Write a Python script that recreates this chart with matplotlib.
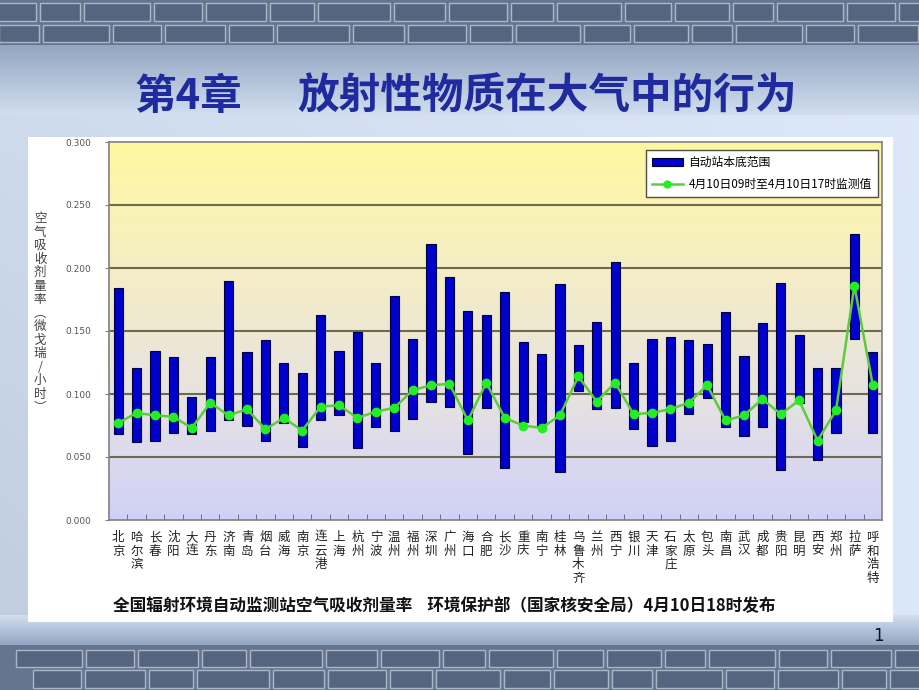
import numpy as np
import matplotlib
matplotlib.use("Agg")
import matplotlib.pyplot as plt
from matplotlib.patches import Rectangle, Patch
from matplotlib.lines import Line2D
from matplotlib.colors import LinearSegmentedColormap

plt.rcParams['font.family'] = ['Noto Sans CJK SC', 'DejaVu Sans']

# ---------------- data ----------------
cities = ["北京", "哈尔滨", "长春", "沈阳", "大连", "丹东", "济南", "青岛", "烟台", "威海",
          "南京", "连云港", "上海", "杭州", "宁波", "温州", "福州", "深圳", "广州", "海口",
          "合肥", "长沙", "重庆", "南宁", "桂林", "乌鲁木齐", "兰州", "西宁", "银川", "天津",
          "石家庄", "太原", "包头", "南昌", "武汉", "成都", "贵阳", "昆明", "西安", "郑州",
          "拉萨", "呼和浩特"]
range_low = [0.068, 0.062, 0.063, 0.069, 0.068, 0.071, 0.079, 0.075, 0.063, 0.077,
             0.058, 0.079, 0.083, 0.057, 0.074, 0.071, 0.080, 0.094, 0.090, 0.052,
             0.089, 0.041, 0.078, 0.075, 0.038, 0.102, 0.088, 0.089, 0.072, 0.059,
             0.063, 0.084, 0.097, 0.074, 0.067, 0.074, 0.040, 0.093, 0.048, 0.069,
             0.144, 0.069]
range_high = [0.184, 0.121, 0.134, 0.129, 0.098, 0.129, 0.190, 0.133, 0.143, 0.125,
              0.117, 0.163, 0.134, 0.149, 0.125, 0.178, 0.144, 0.219, 0.193, 0.166,
              0.163, 0.181, 0.141, 0.132, 0.187, 0.139, 0.157, 0.205, 0.125, 0.144,
              0.145, 0.143, 0.140, 0.165, 0.130, 0.156, 0.188, 0.147, 0.121, 0.121,
              0.227, 0.133]
measured = [0.077, 0.085, 0.083, 0.082, 0.073, 0.093, 0.083, 0.088, 0.072, 0.081,
            0.071, 0.090, 0.091, 0.081, 0.086, 0.089, 0.103, 0.107, 0.108, 0.079,
            0.109, 0.081, 0.075, 0.073, 0.083, 0.114, 0.094, 0.109, 0.084, 0.085,
            0.088, 0.093, 0.107, 0.079, 0.083, 0.096, 0.084, 0.095, 0.063, 0.087,
            0.186, 0.107]
y_ticks = [0.000, 0.050, 0.100, 0.150, 0.200, 0.250, 0.300]
y_tick_labels = ["0.000", "0.050", "0.100", "0.150", "0.200", "0.250", "0.300"]
legend_bar = "自动站本底范围"
legend_line = "4月10日09时至4月10日17时监测值"
ylabel = "空气吸收剂量率︵微戈瑞/小时︶"
title_a = "第4章"
title_b = "放射性物质在大气中的行为"
caption = "全国辐射环境自动监测站空气吸收剂量率    环境保护部（国家核安全局）4月10日18时发布"

W, H = 920, 690
fig = plt.figure(figsize=(W / 100, H / 100), dpi=100)

# ---------------- slide background ----------------
bg = fig.add_axes([0, 0, 1, 1])
bg.set_xlim(0, W)
bg.set_ylim(H, 0)
bg.axis('off')
yy = np.linspace(0, 1, 300)[:, None]
xx = np.linspace(0, 1, 400)[None, :]
base = np.array([0.82, 0.87, 0.94])
img = np.ones((300, 400, 3)) * base
shade = 0.07 * (1 - xx) * (yy) - 0.04 * xx
img = np.clip(img - shade[..., None], 0, 1)
bg.imshow(img, extent=[0, W, H, 0], aspect='auto', zorder=0)
fade = np.linspace(0, 1, 60)[:, None, None]
top_fade = np.ones((60, 1, 3)) * np.array([0.58, 0.65, 0.76]) * (1 - fade) + base * fade
bg.imshow(top_fade, extent=[0, W, 115, 45], aspect='auto', zorder=0.5)
bot_fade = top_fade[::-1]
bg.imshow(bot_fade, extent=[0, W, 645, 615], aspect='auto', zorder=0.5)
for (y0, y1) in [(0, 45), (645, 690)]:
    bg.add_patch(Rectangle((0, y0), W, y1 - y0, facecolor='#66758f', edgecolor='none', zorder=1))
pattern = [58, 44, 70, 52, 64, 48, 76, 55, 62, 46, 68, 50]
for r, (ry, rh) in enumerate([(3, 18), (25, 17), (650, 17), (670, 18)]):
    x = -20 + 17 * r
    k = r
    while x < W:
        w = pattern[k % len(pattern)]
        bg.add_patch(Rectangle((x + 2, ry), w - 4, rh, facecolor='#56657f',
                               edgecolor='#aab6c8', linewidth=1.0, zorder=2))
        x += w
        k += 1

bg.add_patch(Rectangle((28, 137), 865, 485, facecolor='white', edgecolor='none', zorder=3))

# ---------------- title ----------------
fig.text(135 / W, 1 - 97 / H, title_a, fontsize=30, fontweight='bold', color='#1e2a9e',
         ha='left', va='center')
fig.text(297 / W, 1 - 97 / H, title_b, fontsize=30, fontweight='bold', color='#1e2a9e',
         ha='left', va='center')

# ---------------- chart axes ----------------
ax = fig.add_axes([109 / W, (H - 520) / H, 773 / W, 378 / H])
n = len(cities)
xs = np.arange(n)
ax.set_xlim(-0.5, n - 0.5)
ax.set_ylim(0, 0.3)

cmap = LinearSegmentedColormap.from_list('bgc', [
    (0.0, '#d0d0f8'), (0.17, '#dcdaee'), (0.33, '#e6e3e0'),
    (0.5, '#eee8d3'), (0.67, '#f5eec4'), (0.83, '#faf3b4'), (1.0, '#fff8a0')])
grad = np.linspace(0, 1, 256)[:, None]
ax.imshow(grad, cmap=cmap, extent=[-0.5, n - 0.5, 0, 0.3], aspect='auto', origin='lower', zorder=0)

for yv in y_ticks[1:-1]:
    ax.axhline(yv, color='#6b6b50', lw=1.5, zorder=1)

low = np.array(range_low)
high = np.array(range_high)
ax.bar(xs, high - low, bottom=low, width=0.5, color='#0000cc', edgecolor='#000040',
       linewidth=0.8, zorder=2)
ax.plot(xs, measured, color='#5ccc3c', lw=1.8, marker='o', ms=6, mfc='#22ee22',
        mec='#22ee22', zorder=3)

ax.set_yticks(y_ticks)
ax.set_yticklabels(y_tick_labels, fontsize=6.5, color='#555555', family='DejaVu Sans')
ax.tick_params(axis='y', length=3, pad=10, color='#808080')
ax.set_xticks(xs)
ax.set_xticklabels([])
ax.tick_params(axis='x', which='major', length=0)
ax.set_xticks(np.arange(0.5, n - 0.5, 1), minor=True)
ax.tick_params(axis='x', which='minor', direction='in', length=4, color='#606060')
for s in ax.spines.values():
    s.set_color('#808080')
    s.set_linewidth(1.2)

for i, c in enumerate(cities):
    ax.annotate("\n".join(c), xy=(i, 0), xycoords=('data', 'axes fraction'),
                xytext=(0, -8), textcoords='offset points', ha='center', va='top',
                fontsize=9, linespacing=1.05, color='#222222')

handles = [Patch(facecolor='#0000cc', edgecolor='#000040', linewidth=0.8),
           Line2D([0], [0], color='#5ccc3c', lw=1.8, marker='o', ms=5, mfc='#22ee22', mec='#22ee22')]
leg = ax.legend(handles, [legend_bar, legend_line], loc='upper right',
                bbox_to_anchor=(0.9975, 0.985), fontsize=8.5, frameon=True, fancybox=False,
                edgecolor='#505040', framealpha=1, handlelength=2.6, borderpad=0.5,
                labelspacing=0.75, borderaxespad=0.2, handletextpad=0.5)
leg.get_frame().set_linewidth(1.0)
leg.set_zorder(5)

fig.text(40 / W, 1 - 212 / H, "\n".join(ylabel), fontsize=9, color='#444444',
         ha='center', va='top', linespacing=1.05)

fig.text(113 / W, 1 - 606 / H, caption, fontsize=12, fontweight='bold', color='#111111',
         ha='left', va='center')

fig.text(878 / W, 1 - 636 / H, "1", fontsize=12, color='#111111', ha='center', va='center',
         family='DejaVu Sans')

fig.savefig("out.png", dpi=100)
